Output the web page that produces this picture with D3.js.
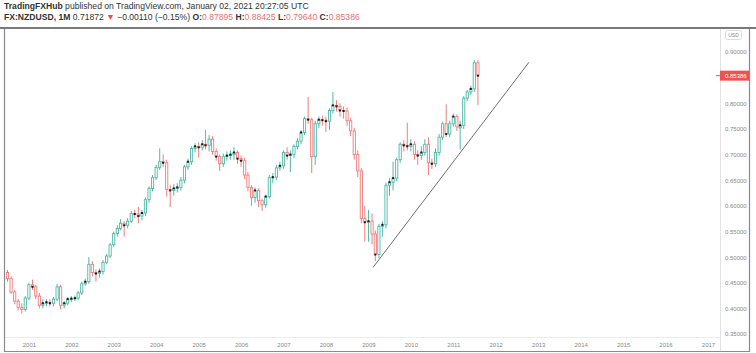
<!DOCTYPE html>
<html>
<head>
<meta charset="utf-8">
<script src="https://cdn.jsdelivr.net/npm/d3@7"></script>
<style>
  body { margin: 0; background: #fff; }
  svg { display: block; font-family: "Liberation Sans", Arial, sans-serif; }
</style>
</head>
<body>
<svg id="chart" width="756" height="353"></svg>
<script>
// monthly NZDUSD candles, first bar = July 2000
const firstMonth = '2000-07-01'
const opens = [
  .470, .458, .432, .414, .402, .398, .420, .446, .442, .424,
  .406, .410, .412, .410, .418, .442, .406, .410, .418, .419,
  .420, .430, .448, .452, .486, .470, .468, .472, .490, .502,
  .524, .546, .556, .566, .562, .570, .585, .584, .580, .586,
  .612, .634, .655, .675, .686, .684, .632, .630, .634, .636,
  .650, .676, .686, .712, .716, .714, .720, .718, .730, .706,
  .696, .682, .696, .698, .700, .704, .692, .688, .660, .636,
  .616, .630, .610, .602, .618, .655, .656, .674, .678, .704,
  .698, .700, .716, .726, .743, .770, .768, .696, .760, .768,
  .767, .765, .786, .796, .794, .786, .785, .766, .746, .700,
  .668, .575, .568, .570, .545, .505, .560, .563, .640, .646,
  .654, .690, .720, .718, .716, .720, .700, .698, .704, .720,
  .684, .682, .704, .734, .760, .740, .760, .774, .752, .757,
  .810, .822, .828, .87895
]
const highs = [
  .475, .462, .436, .418, .410, .424, .450, .456, .446, .430,
  .418, .418, .418, .422, .448, .446, .414, .422, .424, .425,
  .434, .452, .458, .500, .492, .476, .478, .494, .506, .528,
  .550, .562, .574, .570, .576, .590, .592, .598, .592, .616,
  .638, .660, .680, .712, .700, .690, .640, .642, .644, .656,
  .680, .692, .716, .722, .724, .728, .748, .738, .736, .712,
  .700, .702, .706, .708, .714, .708, .698, .694, .666, .640,
  .636, .634, .614, .622, .660, .664, .680, .686, .708, .714,
  .708, .720, .732, .748, .774, .812, .772, .766, .774, .776,
  .774, .790, .822, .806, .800, .794, .792, .772, .752, .708,
  .674, .600, .592, .585, .552, .565, .570, .645, .654, .686,
  .694, .724, .728, .762, .730, .726, .708, .716, .730, .734,
  .692, .712, .740, .764, .798, .766, .780, .778, .766, .814,
  .826, .834, .884, .88425
]
const lows = [
  .452, .428, .408, .396, .390, .394, .416, .436, .418, .400,
  .400, .404, .404, .404, .414, .398, .400, .406, .412, .414,
  .416, .426, .444, .448, .462, .452, .460, .466, .486, .498,
  .520, .540, .552, .540, .556, .566, .576, .566, .572, .580,
  .606, .628, .650, .670, .676, .618, .598, .620, .626, .630,
  .644, .670, .680, .704, .694, .708, .710, .706, .700, .688,
  .668, .676, .688, .690, .690, .682, .676, .652, .628, .600,
  .606, .598, .590, .596, .614, .644, .650, .668, .672, .690,
  .666, .694, .710, .720, .738, .760, .664, .680, .752, .756,
  .744, .748, .780, .784, .774, .770, .756, .736, .690, .656,
  .566, .530, .530, .525, .492, .498, .540, .556, .620, .630,
  .648, .684, .706, .708, .706, .690, .680, .690, .698, .660,
  .672, .676, .698, .728, .734, .734, .754, .746, .710, .750,
  .804, .816, .822, .7964
]
const closes = [
  .458, .432, .414, .402, .398, .420, .446, .442, .424, .406,
  .410, .412, .410, .418, .442, .406, .410, .418, .419, .420,
  .430, .448, .452, .486, .470, .468, .472, .490, .502, .524,
  .546, .556, .566, .562, .570, .585, .584, .580, .586, .612,
  .634, .655, .675, .686, .684, .632, .630, .634, .636, .650,
  .676, .686, .712, .716, .714, .720, .718, .730, .706, .696,
  .682, .696, .698, .700, .704, .692, .688, .660, .636, .616,
  .630, .610, .602, .618, .655, .656, .674, .678, .704, .698,
  .700, .716, .726, .743, .770, .768, .696, .760, .768, .767,
  .765, .786, .796, .794, .786, .785, .766, .746, .700, .668,
  .575, .568, .570, .545, .505, .560, .563, .640, .646, .654,
  .690, .720, .718, .716, .720, .700, .698, .704, .720, .684,
  .682, .704, .734, .760, .740, .760, .774, .754, .757, .810,
  .822, .828, .879, .85386
]
// bars carrying the small black marker
const markedBars = [7, 10, 11, 12, 16, 17, 18, 19, 22, 25, 26, 33, 36, 37, 38, 44, 46, 47, 48, 51,
  53, 54, 55, 56, 59, 62, 63, 64, 65, 66, 70, 73, 75, 77, 79, 80, 83, 85, 88, 89, 90, 92, 93,
  94, 95, 101, 102, 104, 106, 108, 109, 112, 113, 114, 116, 117, 120, 124, 126, 128, 131, 133]

const yearTicks = [2001, 2002, 2003, 2004, 2005, 2006, 2007, 2008, 2009, 2010, 2011, 2012, 2013, 2014, 2015, 2016, 2017]
// 0.85 sits under the last-price tag, so it is not labelled
const priceTicks = [0.35, 0.40, 0.45, 0.50, 0.55, 0.60, 0.65, 0.70, 0.75, 0.80, 0.90]
const trendDates = ['2009-02-10', '2012-10-13']
const trendPrices = [0.48, 0.88]
const lastClose = 0.85386

const upColor = '#4fb8a8'
const downColor = '#ee7d7d'

const svg = d3.select('#chart')

// scales
const x = d3.scaleUtc()
  .domain([new Date('2000-07-01'), new Date('2017-01-01')])
  .range([7.5, 708])
const y = d3.scaleLinear()
  .domain([0.35, 0.90])
  .range([334, 52])

const start = new Date(firstMonth)
const bars = closes.map((c, i) => ({
  date: d3.utcMonth.offset(start, i),
  o: opens[i], h: highs[i], l: lows[i], c: c,
  mark: markedBars.includes(i)
}))

// header
const head = svg.append('g').attr('font-size', 8.6).attr('fill', '#333')
const line1 = head.append('text').attr('x', 4).attr('y', 9)
line1.append('tspan').attr('font-weight', 'bold').text('TradingFXHub')
line1.append('tspan').text(' published on TradingView.com, January 02, 2021 20:27:05 UTC')

const line2 = head.append('text').attr('x', 4).attr('y', 20)
line2.append('tspan').attr('font-weight', 'bold').text('FX:NZDUSD, 1M')
line2.append('tspan').text(' 0.71872 ')
line2.append('tspan').attr('fill', '#e84c4c').text('▼')
line2.append('tspan').text(' −0.00110 (−0.15%) ')
const ohlcLabels = [['O:', 0.87895], ['H:', 0.88425], ['L:', 0.79640], ['C:', 0.85386]]
ohlcLabels.forEach(([k, v]) => {
  line2.append('tspan').attr('font-weight', 'bold').text(k)
  line2.append('tspan').attr('fill', '#ef6f6f').text(d3.format('.5f')(v) + ' ')
})

svg.append('line')
  .attr('x1', 0).attr('x2', 756).attr('y1', 28).attr('y2', 28)
  .attr('stroke', '#7a7a7a').attr('stroke-width', 2)

// frame
svg.append('line').attr('x1', 720.5).attr('x2', 720.5).attr('y1', 29).attr('y2', 351)
  .attr('stroke', '#e2e2e2')
svg.append('line').attr('x1', 4).attr('x2', 720).attr('y1', 337.5).attr('y2', 337.5)
  .attr('stroke', '#ececec')
svg.append('path')
  .attr('d', 'M4.5,29V351.5H749.5V29')
  .attr('fill', 'none').attr('stroke', '#8a8a8a').attr('stroke-width', 1.2)

// price axis
const yAxis = svg.append('g')
  .attr('transform', 'translate(722,0)')
  .call(d3.axisRight(y).tickValues(priceTicks).tickSize(0).tickPadding(3).tickFormat(d3.format('.5f')))
yAxis.select('.domain').remove()
yAxis.selectAll('text').attr('font-size', 6).attr('fill', '#888').attr('font-family', '"Liberation Sans", Arial, sans-serif')

// time axis
const xAxis = svg.append('g')
  .attr('transform', 'translate(0,340)')
  .call(d3.axisBottom(x)
    .tickValues(yearTicks.map(yr => new Date(Date.UTC(yr, 0, 1))))
    .tickSize(0).tickPadding(3)
    .tickFormat(d3.utcFormat('%Y')))
xAxis.select('.domain').remove()
xAxis.selectAll('text').attr('font-size', 6).attr('fill', '#888').attr('font-family', '"Liberation Sans", Arial, sans-serif')

// USD unit box
const unit = svg.append('g')
unit.append('rect').attr('x', 725.5).attr('y', 30.5).attr('width', 16).attr('height', 9).attr('rx', 2)
  .attr('fill', '#fff').attr('stroke', '#ddd')
unit.append('text').attr('x', 733.5).attr('y', 37).attr('text-anchor', 'middle')
  .attr('font-size', 5).attr('fill', '#888').text('USD')

// candles
const candles = svg.append('g').selectAll('g')
  .data(bars)
  .join('g')
  .attr('transform', d => `translate(${x(d.date)},0)`)

candles.append('line')
  .attr('y1', d => y(d.h)).attr('y2', d => y(d.l))
  .attr('stroke', d => d.c >= d.o ? upColor : downColor)
  .attr('stroke-width', 1)

candles.append('rect')
  .attr('x', -1.1).attr('width', 2.2)
  .attr('y', d => y(Math.max(d.o, d.c)))
  .attr('height', d => Math.max(0.8, Math.abs(y(d.o) - y(d.c))))
  .attr('fill', '#fff')
  .attr('stroke', d => d.c >= d.o ? upColor : downColor)
  .attr('stroke-width', 0.9)

candles.filter(d => d.mark).append('rect')
  .attr('x', -1).attr('width', 2).attr('height', 2)
  .attr('y', d => y(d.c) - 1)
  .attr('fill', '#1a1a1a')

// trend line
svg.append('line')
  .attr('x1', x(new Date(trendDates[0]))).attr('y1', y(trendPrices[0]))
  .attr('x2', x(new Date(trendDates[1]))).attr('y2', y(trendPrices[1]))
  .attr('stroke', '#4a4a4a').attr('stroke-width', 0.8)

// last price tag
svg.append('line').attr('x1', 716).attr('x2', 720).attr('y1', y(lastClose)).attr('y2', y(lastClose))
  .attr('stroke', '#ef5350')
svg.append('rect').attr('x', 720).attr('y', y(lastClose) - 5).attr('width', 29).attr('height', 10)
  .attr('fill', '#ef5350')
svg.append('text').attr('x', 725).attr('y', y(lastClose) + 2)
  .attr('font-size', 6).attr('fill', '#fff').text(d3.format('.5f')(lastClose))
</script>
</body>
</html>
